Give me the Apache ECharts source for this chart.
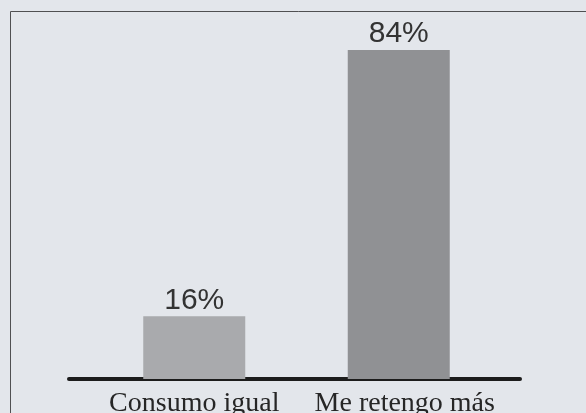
<!DOCTYPE html>
<html>
<head>
<meta charset="utf-8">
<script src="https://cdn.jsdelivr.net/npm/echarts@6/dist/echarts.min.js"></script>
<style>
  html, body { margin: 0; padding: 0; background: #e3e6eb; }
  #chart { width: 586px; height: 413px; }
</style>
</head>
<body>
<div id="chart"></div>
<script>
const categories = ['Consumo igual', 'Me retengo más']
const values = [16, 84]
const barColors = ['#a9aaad', '#909194']

const chart = echarts.init(document.getElementById('chart'))

chart.setOption({
  animation: false,
  backgroundColor: '#e3e6eb',
  grid: [
    { left: 92, right: 85, top: 50, bottom: 34, outerBoundsMode: 'none' },
    { left: 69, right: 66, top: 50, bottom: 34, outerBoundsMode: 'none' },
  ],
  // scanned page frame (top and left edges only)
  graphic: [
    {
      type: 'polyline', silent: true,
      shape: { points: [[10.5, 420], [10.5, 11.5], [600, 11.5]] },
      style: { stroke: '#505052', lineWidth: 1, fill: null },
    },
  ],
  xAxis: [
    {
      type: 'category', gridIndex: 0,
      data: categories.map((name, i) => (i === 1 ? { value: name, textStyle: { padding: [0, 0, 0, 12] } } : name)),
      axisLine: { show: false }, axisTick: { show: false },
      axisLabel: { interval: 0, color: '#262626', fontFamily: 'Liberation Serif', fontSize: 28, margin: 11 },
    },
    {
      type: 'category', gridIndex: 1, data: [''],
      axisLine: { show: true, lineStyle: { color: '#1c1c1c', width: 4 } },
      axisTick: { show: false }, axisLabel: { show: false },
    },
  ],
  yAxis: [
    { type: 'value', gridIndex: 0, min: 0, max: 84, show: false },
    { type: 'value', gridIndex: 1, show: false },
  ],
  series: [
    {
      type: 'bar', xAxisIndex: 0, yAxisIndex: 0,
      data: values.map((v, i) => ({ value: v, itemStyle: { color: barColors[i] } })),
      barWidth: 102,
      label: {
        show: true, position: 'top', distance: 1,
        formatter: '{c}%',
        color: '#333333', fontFamily: 'Liberation Sans', fontSize: 30,
      },
    },
  ],
})
</script>
</body>
</html>
